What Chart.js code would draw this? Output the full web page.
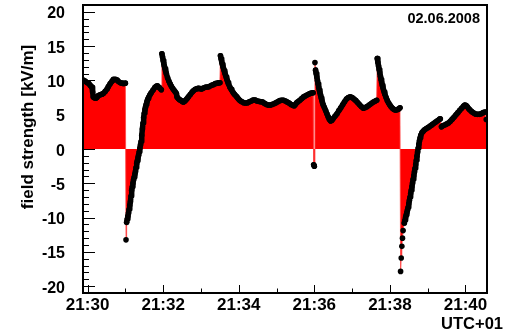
<!DOCTYPE html>
<html>
<head>
<meta charset="utf-8">
<script src="https://cdn.jsdelivr.net/npm/chart.js@4.4.0/dist/chart.umd.min.js"></script>
<style>
  html, body { margin: 0; padding: 0; background: #fff; }
</style>
</head>
<body>
<canvas id="grafico" width="506" height="333"></canvas>
<script>
// Campo eléctrico, 02.06.2008, segundos desde las 21:30:00 (UTC+01)
const timeSec = [
  -7, -4, -1, 2, 4, 6, 7, 8, 9, 11, 13, 15, 17, 20, 23,
  25, 28, 31, 33, 36, 39, 41, 44, 47, 49, 52, 55, 57, 60,
  61, 62, 63, 64, 65, 66, 67, 68, 69, 70, 71, 72, 73, 74, 75,
  76, 77, 78, 79, 80, 81, 82, 83, 84, 85, 86, 87, 88, 89, 90,
  91, 92, 93, 94, 95, 96, 97, 99, 101, 104, 107, 109, 111, 114, 117,
  118, 119, 120, 121, 122, 123, 124, 125, 127, 129, 131, 133, 135, 137, 139,
  141, 142, 144, 146, 148, 150, 152, 154, 156, 158, 160, 163, 166, 168, 171,
  174, 176, 179, 181, 184, 187, 190, 193, 197, 200, 203, 206, 208, 210,
  211, 212, 213, 214, 215, 216, 217, 218, 219, 220, 221, 222, 223, 224, 226,
  228, 229, 231, 233, 235, 237, 239, 241, 243, 245, 248, 251, 254, 257, 260,
  263, 266, 269, 272, 275, 278, 281, 284, 287, 290, 293, 296, 299, 302, 305,
  308, 311, 314, 317, 320, 323, 326, 328, 330, 332, 334, 337, 340, 343, 346,
  349, 352, 355, 358, 359, 360, 361, 362, 363, 364, 365, 366, 367, 368, 369,
  370, 371, 372, 373, 374, 376, 378, 380, 382, 384, 386, 388, 390, 393, 396,
  399, 402, 405, 408, 411, 414, 417, 420, 423, 426, 429, 432, 435, 438, 441,
  444, 447, 450, 453, 456, 459,
  460, 461, 462, 463, 464, 465, 466, 467, 468, 469, 470, 471, 472, 474, 476,
  478, 480, 482, 484, 486, 488, 490, 492, 494, 496,
  497, 498, 499, 500, 501, 503, 504, 505, 506, 507, 508, 509, 510, 511, 512,
  513, 514, 515, 516, 517, 518, 519, 520, 521, 522, 523, 524, 525, 526, 527,
  528, 529, 531, 533, 535, 538, 541, 544, 547, 550, 553, 556, 559, 560,
  562, 564, 567, 570, 573, 576, 579, 582, 585, 588, 591, 594, 597, 599, 601,
  603, 605, 607, 610, 613, 616, 619, 622, 625, 628, 631, 633
];
const fieldKV = [
  10.05, 9.9, 9.7, 9.55, 9.3, 9.1, 9.0, 8.3, 7.6, 7.45, 7.4, 7.55, 7.8, 7.9, 8.0,
  8.1, 8.4, 8.75, 9.1, 9.55, 9.9, 10.15, 10.15, 10.05, 9.85, 9.65, 9.6, 9.55, 9.6,
  -13.25, -10.7, -10.2, -9.8, -9.35, -8.8, -8.2, -7.7, -6.85, -6.0, -5.5, -5.0, -4.5, -4.1, -3.7,
  -3.3, -2.7, -2.1, -1.7, -1.3, -0.9, -0.4, 0.1, 0.6, 1.1, 2.0, 2.9, 3.8, 4.6, 5.2,
  5.7, 6.1, 6.5, 6.8, 7.1, 7.35, 7.55, 7.9, 8.2, 8.6, 9.0, 9.15, 9.2, 8.95, 8.65,
  13.9, 13.4, 12.9, 12.45, 12.05, 11.7, 11.35, 11.0, 10.4, 9.9, 9.5, 9.15, 8.85, 8.6, 8.35,
  8.1, 7.6, 7.35, 7.2, 7.1, 6.95, 6.85, 6.95, 7.15, 7.35, 7.6, 7.95, 8.3, 8.5, 8.7,
  8.8, 8.85, 8.8, 8.75, 8.9, 9.0, 9.05, 9.1, 9.3, 9.4, 9.55, 9.6, 9.65, 9.65,
  13.6, 13.15, 12.7, 12.35, 12.0, 11.7, 11.4, 11.1, 10.8, 10.5, 10.2, 9.95, 9.7, 9.45, 9.0,
  8.7, 8.55, 8.25, 8.0, 7.8, 7.6, 7.35, 7.15, 7.0, 6.9, 6.75, 6.7, 6.75, 6.9, 7.0,
  7.15, 7.15, 7.0, 6.95, 6.9, 6.85, 6.65, 6.5, 6.4, 6.4, 6.5, 6.6, 6.75, 6.9, 7.05,
  7.1, 7.1, 7.0, 6.85, 6.7, 6.5, 6.35, 6.3, 6.5, 6.75, 6.9, 7.1, 7.35, 7.6, 7.75,
  7.9, 8.05, 8.15, 8.2, -2.3, -2.5, 12.6, 11.5, 11.0, 10.5, 10.0, 9.5, 9.0, 8.6, 8.2,
  7.85, 7.45, 7.1, 6.75, 6.45, 6.05, 5.6, 5.15, 4.7, 4.3, 4.1, 4.2, 4.45, 4.8, 5.15,
  5.6, 6.0, 6.45, 6.9, 7.3, 7.5, 7.6, 7.5, 7.3, 7.05, 6.75, 6.45, 6.15, 5.95, 6.05,
  6.2, 6.4, 6.6, 6.8, 6.95, 7.1,
  13.2, 12.6, 12.1, 11.6, 11.1, 10.6, 10.15, 9.7, 9.3, 8.95, 8.6, 8.3, 8.0, 7.5, 7.05,
  6.7, 6.4, 6.15, 5.95, 5.8, 5.7, 5.7, 5.75, 5.85, 6.0,
  -17.85, -15.9, -14.2, -13.0, -11.9, -10.8, -10.35, -9.95, -9.6, -9.25, -8.9, -8.5, -8.0, -7.5, -7.0,
  -6.5, -6.0, -5.5, -4.95, -4.4, -3.9, -3.35, -2.8, -2.25, -1.65, -1.05, -0.45, 0.15, 0.7, 1.2,
  1.65, 2.0, 2.4, 2.6, 2.8, 3.0, 3.15, 3.35, 3.55, 3.75, 3.95, 4.15, 4.35, 4.4,
  3.25, 3.4, 3.5, 3.65, 3.8, 4.05, 4.35, 4.65, 5.0, 5.3, 5.65, 5.95, 6.25, 6.4, 6.35,
  6.15, 5.9, 5.7, 5.45, 5.25, 5.1, 5.05, 5.05, 5.15, 5.3, 5.4, 4.3
];

const xMajorTicks = [0, 120, 240, 360, 480, 600];
const xTickLabels = ['21:30', '21:32', '21:34', '21:36', '21:38', '21:40'];
const xMinorTicks = [60, 180, 300, 420, 540];
const yMajorTicks = [-20, -15, -10, -5, 0, 5, 10, 15, 20];
const yTickLabels = ['-20', '-15', '-10', '-5', '0', '5', '10', '15', '20'];
const yTitle = 'field strength [kV/m]';
const xTitle = 'UTC+01';
const dateLabel = '02.06.2008';

const FONT = '"Liberation Sans", Arial, Helvetica, sans-serif';

const puntos = timeSec.map((t, i) => ({ x: t, y: fieldKV[i] }));

// marco, ticks y textos estilo ROOT
const marcoPlugin = {
  id: 'marco',
  beforeDatasetsDraw(chart){
    const { ctx, chartArea: a, scales: { x, y } } = chart;
    ctx.save();
    ctx.strokeStyle = '#000';
    ctx.lineWidth = 1;
    ctx.beginPath();
    for (let v = -20; v <= 20; v++){
      const py = Math.round(y.getPixelForValue(v)) + 0.5;
      const len = (v % 5 === 0) ? 12 : 6;
      ctx.moveTo(a.left, py); ctx.lineTo(a.left + len, py);
    }
    xMajorTicks.forEach(v => {
      const px = Math.round(x.getPixelForValue(v)) + 0.5;
      ctx.moveTo(px, a.bottom); ctx.lineTo(px, a.bottom - 8);
    });
    xMinorTicks.forEach(v => {
      const px = Math.round(x.getPixelForValue(v)) + 0.5;
      ctx.moveTo(px, a.bottom); ctx.lineTo(px, a.bottom - 4.5);
    });
    ctx.stroke();
    ctx.restore();
  },
  afterDraw(chart){
    const { ctx, chartArea: a, scales: { x, y } } = chart;
    ctx.save();
    ctx.strokeStyle = '#000';
    ctx.lineWidth = 2;
    ctx.strokeRect(a.left, a.top, a.right - a.left, a.bottom - a.top);

    ctx.fillStyle = '#000';
    ctx.textBaseline = 'alphabetic';
    ctx.font = 'bold 16px ' + FONT;
    ctx.textAlign = 'right';
    yMajorTicks.forEach((v, i) => {
      ctx.fillText(yTickLabels[i], 65, y.getPixelForValue(v) + 6.5);
    });
    ctx.font = 'bold 17px ' + FONT;
    ctx.textAlign = 'center';
    xMajorTicks.forEach((v, i) => {
      ctx.fillText(xTickLabels[i], x.getPixelForValue(v), 309.5);
    });

    ctx.font = 'bold 16.5px ' + FONT;
    ctx.textAlign = 'right';
    ctx.fillText(xTitle, 503, 328.5);

    ctx.font = 'bold 14.5px ' + FONT;
    ctx.fillText(dateLabel, 480, 23);

    ctx.font = 'bold 17px ' + FONT;
    ctx.translate(32.5, 127);
    ctx.rotate(-Math.PI / 2);
    ctx.textAlign = 'center';
    ctx.fillText(yTitle, 0, 0);
    ctx.restore();
  }
};

const ctx = document.getElementById('grafico').getContext('2d');
new Chart(ctx, {
  type: 'line',
  data: {
    datasets: [
      { // relleno rojo hasta cero
        data: puntos,
        order: 1,
        fill: 'origin',
        backgroundColor: '#ff0000',
        borderColor: 'rgba(255,70,70,0.8)',
        borderWidth: 1,
        pointRadius: 0,
        tension: 0
      },
      { // puntos negros
        data: puntos,
        order: 0,
        fill: false,
        borderColor: '#000',
        borderWidth: 5.5,
        borderJoinStyle: 'round',
        borderCapStyle: 'round',
        pointRadius: 2.8,
        pointBackgroundColor: '#000',
        pointBorderWidth: 0,
        tension: 0,
        segment: {
          borderColor: c => Math.hypot(c.p1.x - c.p0.x, c.p1.y - c.p0.y) > 7 ? 'rgba(0,0,0,0)' : '#000'
        }
      }
    ]
  },
  options: {
    responsive: false,
    animation: false,
    events: [],
    layout: { padding: { top: 5, right: 19, left: 0, bottom: 0 } },
    plugins: { legend: { display: false }, tooltip: { enabled: false } },
    scales: {
      x: {
        type: 'linear', min: -7.3, max: 634.2,
        ticks: { display: false }, grid: { display: false }, border: { display: false },
        afterFit: s => { s.height = 40; }
      },
      y: {
        min: -21, max: 21,
        ticks: { display: false }, grid: { display: false }, border: { display: false },
        afterFit: s => { s.width = 83; }
      }
    }
  },
  plugins: [marcoPlugin]
});
</script>
</body>
</html>
